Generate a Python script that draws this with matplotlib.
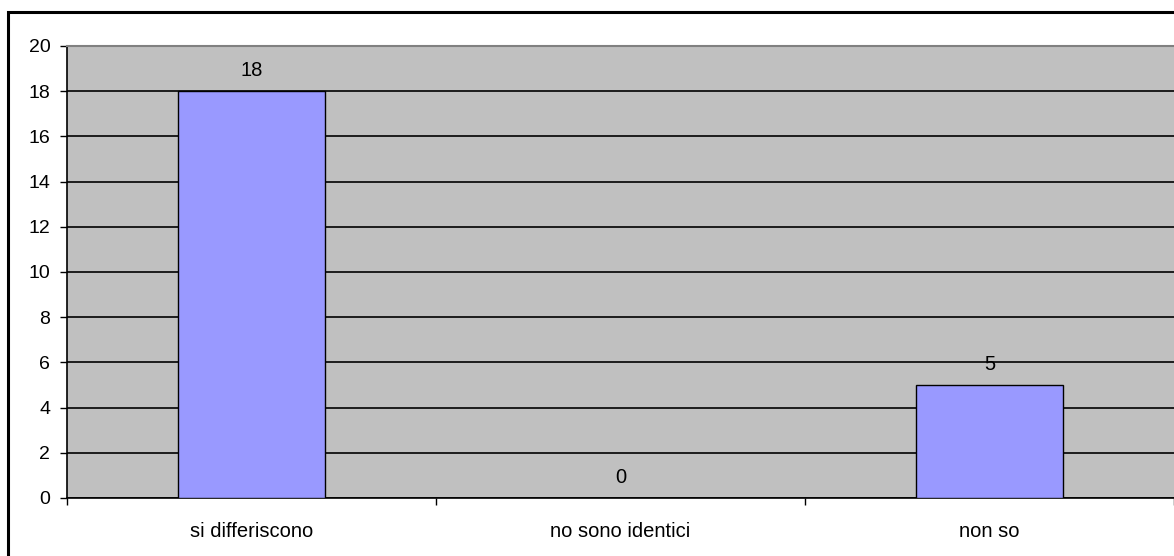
import matplotlib.pyplot as plt
from matplotlib.patches import Rectangle

categories = ['si differiscono', 'no sono identici', 'non so']
values = [18, 0, 5]
y_ticks = [0, 2, 4, 6, 8, 10, 12, 14, 16, 18, 20]

plt.rcParams['font.family'] = ['Liberation Sans', 'DejaVu Sans']

W, H = 1174, 556
fig = plt.figure(figsize=(W / 100, H / 100), dpi=100)
ax = fig.add_axes([67 / W, 58 / H, 1 - 67 / W, (498 - 46) / H])

# chart frame around everything
fig.patches.append(Rectangle((8 / W, -0.5), 2, 1.5 - 12 / H, transform=fig.transFigure,
                             fill=False, edgecolor='black', linewidth=2.2))

ax.set_facecolor('#c0c0c0')
x = range(len(categories))
ax.bar(x, values, width=0.4, color='#9999ff', edgecolor='black', linewidth=1, zorder=3)

for i, v in enumerate(values):
    ax.annotate(str(v), (i, v), xytext=(0, 15), textcoords='offset points',
                ha='center', va='center', fontsize=14.5)

ax.set_xlim(-0.5, len(categories) - 0.5)
ax.set_ylim(0, 20)
ax.set_yticks(y_ticks)
ax.yaxis.grid(True, color='black', linewidth=1.2, zorder=1)
ax.set_axisbelow(True)

# category boundaries carry the ticks, labels sit in the middle
ax.set_xticks([-0.5, 0.5, 1.5, 2.5])
ax.set_xticklabels([])
ax.set_xticks(list(x), minor=True)
ax.set_xticklabels(categories, minor=True, fontsize=14.5)
ax.tick_params(axis='x', which='minor', length=0, pad=17)
ax.tick_params(axis='x', which='major', length=5, width=1, direction='out')
ax.tick_params(axis='y', length=5, width=1, direction='out', labelsize=14, pad=7)

ax.spines['left'].set_color('black')
ax.spines['bottom'].set_color('black')
ax.spines['left'].set_linewidth(1.2)
ax.spines['bottom'].set_linewidth(1.2)
ax.spines['top'].set_color('#808080')
ax.spines['top'].set_linewidth(1.5)
ax.spines['right'].set_visible(False)

fig.savefig('out.png', dpi=100)
